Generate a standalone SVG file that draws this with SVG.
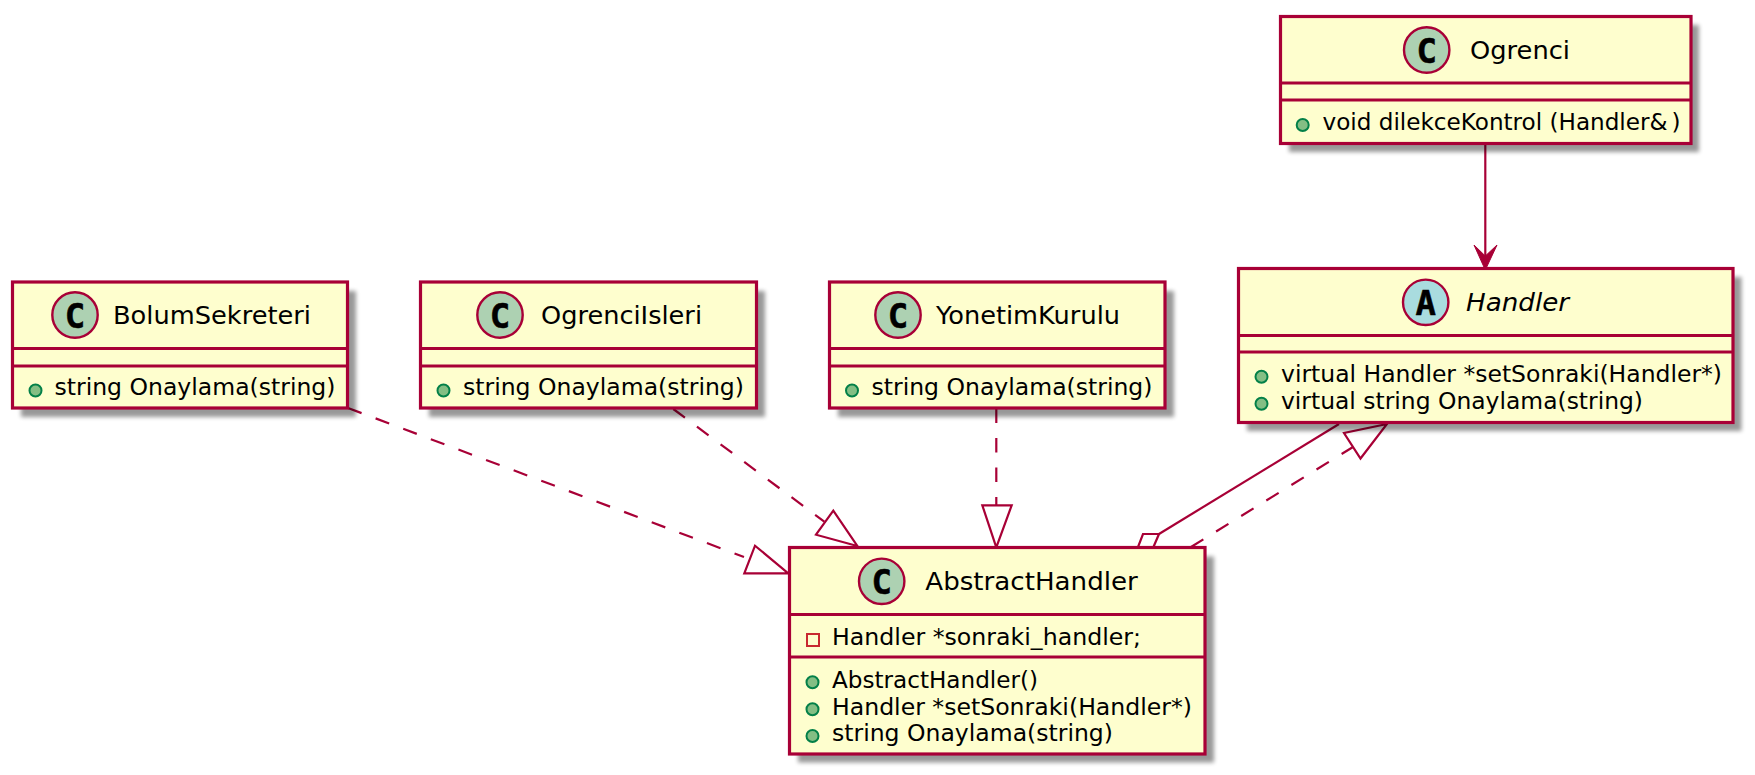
<svg xmlns="http://www.w3.org/2000/svg" width="1755" height="775" viewBox="0 0 1755 775">
<style>
text{font-family:"DejaVu Sans",sans-serif;fill:#000}
.t{font-size:25.6px}
.m{font-size:23.3px}
.b{fill:#FEFECE;stroke:#A80036;stroke-width:3.2}
.s{fill:#000;opacity:.4;filter:url(#sh)}
.l{stroke:#A80036;stroke-width:3.2;fill:none}
.c{stroke:#A80036;stroke-width:2.2;fill:none}
.d{stroke-dasharray:14.500,15}
.i{stroke:#A80036;stroke-width:2.2;fill:#fff}
.ci{fill:#ADD1B2;stroke:#A80036;stroke-width:2.400}
.g{font-family:"DejaVu Sans Mono",monospace;font-weight:bold;font-size:34px;stroke:#000;stroke-width:.5}
.p{fill:#84BE84;stroke:#038048;stroke-width:2}
.q{fill:none;stroke:#C82930;stroke-width:2}
</style>
<defs>
<filter id="sh" x="-10%" y="-10%" width="120%" height="120%"><feGaussianBlur stdDeviation="2.2"/></filter>
</defs>
<g id="connectors">
<path class="c" d="M1485.300 145V262"/>
<path d="M1485.300 270L1474 245L1485.300 256L1497 245Z" fill="#A80036" stroke="#A80036" stroke-width="1"/>
<path class="c d" d="M348 408L744 557"/>
<path class="i" d="M788.300 573.300L744.300 573.300L755 545.700Z"/>
<path class="c d" d="M673.300 409L824.300 521.700"/>
<path class="i" d="M857.300 546L816 534.700L833.300 510.700Z"/>
<path class="c d" d="M996.300 408.500V505"/>
<path class="i" d="M996.300 547.300L982.300 505.300L1011.700 505.300Z"/>
<path class="c" d="M1339 424L1159 534"/>
<path class="i" d="M1153 548L1138 547L1143 534L1159 534Z"/>
<path class="c d" d="M1191 547L1353 447"/>
<path class="i" d="M1387 424L1344 433L1360.500 458.500Z"/>
</g>
<g id="BolumSekreteri">
<rect class="s" x="21" y="291" width="335" height="126"/>
<rect class="b" x="12.500" y="282" width="335" height="126"/>
<path class="l" d="M12.500 348.500H347.500M12.500 366H347.500"/>
<circle class="ci" cx="75" cy="315" r="22.700"/>
<text class="g" x="75" y="327.500" text-anchor="middle">C</text>
<text class="t" x="113" y="324" textLength="198" lengthAdjust="spacingAndGlyphs">BolumSekreteri</text>
<circle class="p" cx="35.500" cy="390.500" r="6"/>
<text class="m" x="54.500" y="395" textLength="281" lengthAdjust="spacingAndGlyphs">string Onaylama(string)</text>
</g>
<g id="OgrenciIsleri">
<rect class="s" x="429" y="291" width="336" height="126"/>
<rect class="b" x="420.500" y="282" width="336" height="126"/>
<path class="l" d="M420.500 348.500H756.500M420.500 366H756.500"/>
<circle class="ci" cx="500" cy="315" r="22.700"/>
<text class="g" x="500" y="327.500" text-anchor="middle">C</text>
<text class="t" x="541" y="324" textLength="161" lengthAdjust="spacingAndGlyphs">OgrenciIsleri</text>
<circle class="p" cx="443.500" cy="390.500" r="6"/>
<text class="m" x="463" y="395" textLength="281" lengthAdjust="spacingAndGlyphs">string Onaylama(string)</text>
</g>
<g id="YonetimKurulu">
<rect class="s" x="838" y="291" width="336" height="126"/>
<rect class="b" x="829.500" y="282" width="335.500" height="126"/>
<path class="l" d="M829.500 348.500H1165M829.500 366H1165"/>
<circle class="ci" cx="898" cy="315" r="22.700"/>
<text class="g" x="898" y="327.500" text-anchor="middle">C</text>
<text class="t" x="936" y="324" textLength="184" lengthAdjust="spacingAndGlyphs">YonetimKurulu</text>
<circle class="p" cx="852" cy="390.500" r="6"/>
<text class="m" x="871.500" y="395" textLength="281" lengthAdjust="spacingAndGlyphs">string Onaylama(string)</text>
</g>
<g id="Ogrenci">
<rect class="s" x="1289" y="25" width="410" height="127"/>
<rect class="b" x="1280.500" y="16.500" width="410.500" height="127"/>
<path class="l" d="M1280.500 83H1691M1280.500 100H1691"/>
<circle class="ci" cx="1426.700" cy="50" r="22.700"/>
<text class="g" x="1426.700" y="62.500" text-anchor="middle">C</text>
<text class="t" x="1470" y="59" textLength="100" lengthAdjust="spacingAndGlyphs">Ogrenci</text>
<circle class="p" cx="1302.700" cy="125" r="6"/>
<text class="m" x="1322.500" y="130" textLength="358" lengthAdjust="spacingAndGlyphs">void dilekceKontrol (Handler&amp;<tspan dx="4">)</tspan></text>
</g>
<g id="Handler">
<rect class="s" x="1247" y="277" width="494.500" height="154"/>
<rect class="b" x="1238.500" y="268.500" width="494.500" height="154"/>
<path class="l" d="M1238.500 335.500H1733M1238.500 352H1733"/>
<circle cx="1425.700" cy="302.300" r="22.700" fill="#A9DCDF" stroke="#A80036" stroke-width="2.400"/>
<text class="g" x="1425.700" y="315" text-anchor="middle">A</text>
<text class="t" x="1466" y="311" textLength="103" lengthAdjust="spacingAndGlyphs" font-style="italic">Handler</text>
<circle class="p" cx="1261.500" cy="376.700" r="6"/>
<text class="m" x="1281" y="382" textLength="441" lengthAdjust="spacingAndGlyphs">virtual Handler *setSonraki(Handler*)</text>
<circle class="p" cx="1261.500" cy="403.700" r="6"/>
<text class="m" x="1281" y="409" textLength="362" lengthAdjust="spacingAndGlyphs">virtual string Onaylama(string)</text>
</g>
<g id="AbstractHandler">
<rect class="s" x="798" y="556.500" width="416" height="206"/>
<rect class="b" x="789.500" y="547.500" width="415.500" height="206.500"/>
<path class="l" d="M789.500 614.500H1205M789.500 657H1205"/>
<circle class="ci" cx="881.700" cy="581.300" r="22.700"/>
<text class="g" x="881.700" y="593.800" text-anchor="middle">C</text>
<text class="t" x="925.300" y="590" textLength="212.500" lengthAdjust="spacingAndGlyphs">AbstractHandler</text>
<rect class="q" x="807" y="634" width="12" height="12"/>
<text class="m" x="832" y="644.500" textLength="309" lengthAdjust="spacingAndGlyphs">Handler *sonraki_handler;</text>
<circle class="p" cx="812.500" cy="682.300" r="6"/>
<text class="m" x="832" y="688" textLength="206" lengthAdjust="spacingAndGlyphs">AbstractHandler()</text>
<circle class="p" cx="812.500" cy="709.300" r="6"/>
<text class="m" x="832" y="714.500" textLength="360" lengthAdjust="spacingAndGlyphs">Handler *setSonraki(Handler*)</text>
<circle class="p" cx="812.500" cy="736" r="6"/>
<text class="m" x="832" y="741" textLength="281" lengthAdjust="spacingAndGlyphs">string Onaylama(string)</text>
</g>
</svg>
